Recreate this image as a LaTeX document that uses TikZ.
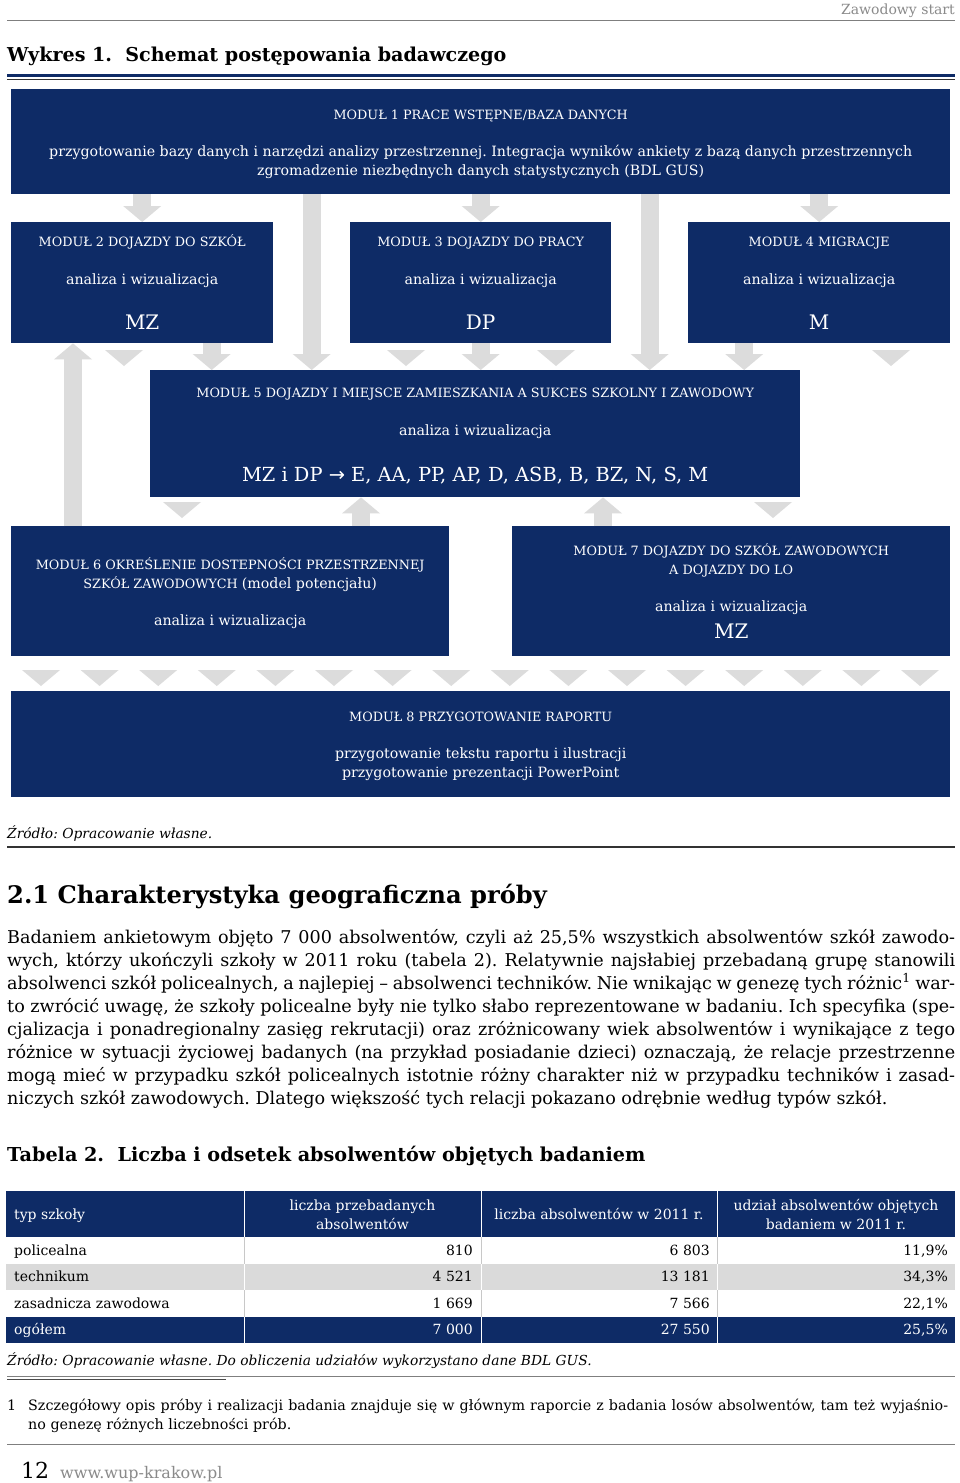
\documentclass[tikz,border=0pt]{standalone}
\usepackage{fontspec}
\setmainfont{DejaVu Serif}
\usetikzlibrary{arrows.meta,positioning,calc}
\definecolor{Navy}{HTML}{0E2B66}
\definecolor{Arrow}{HTML}{DCDCDC}
\definecolor{RowGray}{HTML}{DADADA}
\definecolor{Sep}{HTML}{C8C8C8}
\definecolor{Rule}{HTML}{7F7F7F}
\definecolor{Mute}{HTML}{8A8A8A}
\frenchspacing

\begin{document}
\begin{tikzpicture}[x=1pt,y=-1pt,
  modbox/.style={fill=Navy,anchor=north west,inner sep=0pt},
  modcap/.style={text=white,anchor=base,inner sep=0pt,font=\fontsize{12.8}{16}\selectfont},
  modtxt/.style={text=white,anchor=base,inner sep=0pt,font=\fontsize{14.2}{17}\selectfont},
  modbig/.style={text=white,anchor=base,inner sep=0pt,font=\fontsize{20}{24}\selectfont},
  garrow/.style={draw=Arrow,line width=18pt,-{Triangle[length=16pt,width=38pt,line width=0pt]}},
  bodyline/.style={anchor=base west,inner sep=0pt,font=\fontsize{17.6}{23}\selectfont},
  cell/.style={inner sep=0pt,font=\fontsize{14}{17}\selectfont},
  caption/.style={anchor=base west,inner sep=0pt,font=\fontsize{13.8}{17}\itshape}]
  \useasboundingbox (0,0) rectangle (960,1483);
  \fill[white] (0,0) rectangle (960,1483);

  % page head
  \node[anchor=base east,inner sep=0pt,text=Mute,font=\fontsize{14}{17}\selectfont] (runhead) at (955,14) {Zawodowy start};
  \draw[Rule,line width=1pt] (7,20) -- (955,20);
  \node[anchor=base west,inner sep=0pt,font=\fontsize{19.1}{23}\bfseries] (fig) at (7,61) {Wykres 1.\ \ Schemat postępowania badawczego};
  \draw[Navy,line width=3pt] (7,75.5) -- (955,75.5);
  \draw[black!80,line width=1.2pt] (7,79.5) -- (955,79.5);

  % modules
  \node[modbox,minimum width=939pt,minimum height=105pt] (m1) at (11,89) {};
  \node[modbox,minimum width=262pt,minimum height=121pt] (m2) at (11,222) {};
  \node[modbox,minimum width=261pt,minimum height=121pt] (m3) at (350,222) {};
  \node[modbox,minimum width=262pt,minimum height=121pt] (m4) at (688,222) {};
  \node[modbox,minimum width=650pt,minimum height=127pt] (m5) at (150,370) {};
  \node[modbox,minimum width=438pt,minimum height=130pt] (m6) at (11,526) {};
  \node[modbox,minimum width=438pt,minimum height=130pt] (m7) at (512,526) {};
  \node[modbox,minimum width=939pt,minimum height=106pt] (m8) at (11,691) {};

  \node[modcap] (m1a) at ($(m1.north)+(0,30)$) {MODUŁ 1 PRACE WSTĘPNE/BAZA DANYCH};
  \node[modtxt] (m1b) at ($(m1.north)+(0,67)$) {przygotowanie bazy danych i narzędzi analizy przestrzennej. Integracja wyników ankiety z bazą danych przestrzennych};
  \node[modtxt] (m1c) at ($(m1.north)+(0,86)$) {zgromadzenie niezbędnych danych statystycznych (BDL GUS)};

  \node[modcap] (m2a) at ($(m2.north)+(0,24)$) {MODUŁ 2 DOJAZDY DO SZKÓŁ};
  \node[modtxt] (m2b) at ($(m2.north)+(0,62)$) {analiza i wizualizacja};
  \node[modbig] (m2c) at ($(m2.north)+(0,107)$) {MZ};
  \node[modcap] (m3a) at ($(m3.north)+(0,24)$) {MODUŁ 3 DOJAZDY DO PRACY};
  \node[modtxt] (m3b) at ($(m3.north)+(0,62)$) {analiza i wizualizacja};
  \node[modbig] (m3c) at ($(m3.north)+(0,107)$) {DP};
  \node[modcap] (m4a) at ($(m4.north)+(0,24)$) {MODUŁ 4 MIGRACJE};
  \node[modtxt] (m4b) at ($(m4.north)+(0,62)$) {analiza i wizualizacja};
  \node[modbig] (m4c) at ($(m4.north)+(0,107)$) {M};

  \node[modcap] (m5a) at ($(m5.north)+(0,27)$) {MODUŁ 5 DOJAZDY I MIEJSCE ZAMIESZKANIA A SUKCES SZKOLNY I ZAWODOWY};
  \node[modtxt] (m5b) at ($(m5.north)+(0,65)$) {analiza i wizualizacja};
  \node[modbig,font=\fontsize{19.4}{24}\selectfont] (m5c) at ($(m5.north)+(0,111)$) {MZ i DP {\fontspec{DejaVu Sans}→} E, AA, PP, AP, D, ASB, B, BZ, N, S, M};

  \node[modcap] (m6a) at ($(m6.north)+(0,43)$) {MODUŁ 6 OKREŚLENIE DOSTEPNOŚCI PRZESTRZENNEJ};
  \node[modcap] (m6b) at ($(m6.north)+(0,62)$) {SZKÓŁ ZAWODOWYCH {\fontsize{14.2}{17}\selectfont(model potencjału)}};
  \node[modtxt] (m6c) at ($(m6.north)+(0,99)$) {analiza i wizualizacja};

  \node[modcap] (m7a) at ($(m7.north)+(0,29)$) {MODUŁ 7 DOJAZDY DO SZKÓŁ ZAWODOWYCH};
  \node[modcap] (m7b) at ($(m7.north)+(0,48)$) {A DOJAZDY DO LO};
  \node[modtxt] (m7c) at ($(m7.north)+(0,85)$) {analiza i wizualizacja};
  \node[modbig] (m7d) at ($(m7.north)+(0,112)$) {MZ};

  \node[modcap] (m8a) at ($(m8.north)+(0,30)$) {MODUŁ 8 PRZYGOTOWANIE RAPORTU};
  \node[modtxt] (m8b) at ($(m8.north)+(0,67)$) {przygotowanie tekstu raportu i ilustracji};
  \node[modtxt] (m8c) at ($(m8.north)+(0,86)$) {przygotowanie prezentacji PowerPoint};

  % grey arrows
  \coordinate (g23) at ($(m2.north east)!.5!(m3.north west)$);
  \coordinate (g34) at ($(m3.north east)!.5!(m4.north west)$);
  \coordinate (o25) at ($(m2.south east)!.5!(m5.north west)$);
  \coordinate (o45) at ($(m4.south west)!.5!(m5.north east)$);
  \coordinate (u62) at ([xshift=62]m6.north west);
  \coordinate (u65) at ([xshift=350]m6.north west);
  \coordinate (u75) at ([xshift=91]m7.north west);
  \draw[garrow] (m1.south -| m2.north) -- (m2.north);
  \draw[garrow] (m1.south -| m3.north) -- (m3.north);
  \draw[garrow] (m1.south -| m4.north) -- (m4.north);
  \draw[garrow] (m1.south -| g23) -- (m5.north -| g23);
  \draw[garrow] (m1.south -| g34) -- (m5.north -| g34);
  \draw[garrow] (m2.south -| o25) -- (m5.north -| o25);
  \draw[garrow] (m3.south) -- (m3.south |- m5.north);
  \draw[garrow] (m4.south -| o45) -- (m5.north -| o45);
  \draw[garrow] (m6.north -| u62) -- (m2.south -| u62);
  \draw[garrow] (m6.north -| u65) -- (m5.south -| u65);
  \draw[garrow] (m7.north -| u75) -- (m5.south -| u75);

  % loose triangles
  \foreach \tx in {124,406,556,891}
    \fill[Arrow] (\tx-19,350) -- (\tx+19,350) -- (\tx,366) -- cycle;
  \foreach \tx in {182,773}
    \fill[Arrow] (\tx-19,502) -- (\tx+19,502) -- (\tx,518) -- cycle;
  \foreach \i in {0,...,15}
    \fill[Arrow] ({41+58.6*\i-19},670) -- ({41+58.6*\i+19},670) -- ({41+58.6*\i},686) -- cycle;

  \node[caption] (src1) at (7,838) {Źródło: Opracowanie własne.};
  \draw[black!80,line width=1.2pt] (7,847) -- (955,847);

  % section text
  \node[anchor=base west,inner sep=0pt,font=\fontsize{24.2}{28}\bfseries] (sec) at (7,903) {2.1 Charakterystyka geograficzna próby};
  \node[bodyline] (p1) at (7,943) {\makebox[948pt][s]{Badaniem ankietowym objęto 7~000 absolwentów, czyli aż 25,5\% wszystkich absolwentów szkół zawodo-}};
  \node[bodyline] (p2) at (7,966) {\makebox[948pt][s]{wych, którzy ukończyli szkoły w 2011 roku (tabela 2). Relatywnie najsłabiej przebadaną grupę stanowili}};
  \node[bodyline] (p3) at (7,989) {\makebox[948pt][s]{absolwenci szkół policealnych, a najlepiej -- absolwenci techników. Nie wnikając w genezę tych różnic\textsuperscript{1} war-}};
  \node[bodyline] (p4) at (7,1012) {\makebox[948pt][s]{to zwrócić uwagę, że szkoły policealne były nie tylko słabo reprezentowane w badaniu. Ich specyfika (spe-}};
  \node[bodyline] (p5) at (7,1035) {\makebox[948pt][s]{cjalizacja i ponadregionalny zasięg rekrutacji) oraz zróżnicowany wiek absolwentów i wynikające z tego}};
  \node[bodyline] (p6) at (7,1058) {\makebox[948pt][s]{różnice w sytuacji życiowej badanych (na przykład posiadanie dzieci) oznaczają, że relacje przestrzenne}};
  \node[bodyline] (p7) at (7,1081) {\makebox[948pt][s]{mogą mieć w przypadku szkół policealnych istotnie różny charakter niż w przypadku techników i zasad-}};
  \node[bodyline] (p8) at (7,1104) {niczych szkół zawodowych. Dlatego większość tych relacji pokazano odrębnie według typów szkół.};

  % table
  \node[anchor=base west,inner sep=0pt,font=\fontsize{19.2}{23}\bfseries] (tab) at (7,1161) {Tabela 2.\ \ Liczba i odsetek absolwentów objętych badaniem};
  \fill[Navy] (6,1191) rectangle (955,1237);
  \foreach \sx in {244,481,717}
    \draw[white,line width=0.8pt] (\sx,1191) -- (\sx,1237);
  \node[cell,text=white,anchor=base west] (h1) at (14,1219) {typ szkoły};
  \node[cell,text=white,anchor=base] (h2a) at (362.5,1210) {liczba przebadanych};
  \node[cell,text=white,anchor=base] (h2b) at (362.5,1229) {absolwentów};
  \node[cell,text=white,anchor=base] (h3) at (599,1219) {liczba absolwentów w 2011 r.};
  \node[cell,text=white,anchor=base] (h4a) at (836,1210) {udział absolwentów objętych};
  \node[cell,text=white,anchor=base] (h4b) at (836,1229) {badaniem w 2011 r.};
  \foreach \ry/\rf/\rt/\rs/\rname/\ra/\rb/\rc [count=\k] in {
      1237/white/black/Sep/policealna/810/6 803/{11,9\%},
      1263.5/RowGray/black/white/technikum/4 521/13 181/{34,3\%},
      1290/white/black/Sep/zasadnicza zawodowa/1 669/7 566/{22,1\%},
      1316.5/Navy/white/white/ogółem/7 000/27 550/{25,5\%}} {
    \fill[\rf] (6,\ry) rectangle (955,\ry+26.5);
    \foreach \sx in {244,481,717}
      \draw[\rs,line width=0.8pt] (\sx,\ry) -- (\sx,\ry+26.5);
    \node[cell,text=\rt,anchor=base west] (r\k n) at (14,\ry+18) {\rname};
    \node[cell,text=\rt,anchor=base east] (r\k a) at (473,\ry+18) {\ra};
    \node[cell,text=\rt,anchor=base east] (r\k b) at (710,\ry+18) {\rb};
    \node[cell,text=\rt,anchor=base east] (r\k c) at (948,\ry+18) {\rc};
  }
  \node[caption] (src2) at (7,1365) {Źródło: Opracowanie własne. Do obliczenia udziałów wykorzystano dane BDL GUS.};
  \draw[Rule,line width=0.8pt] (7,1376) -- (955,1376);
  \draw[black!70,line width=0.8pt] (7,1379) -- (226,1379);

  % footnote and foot
  \node[anchor=base west,inner sep=0pt,font=\fontsize{14.3}{17}\selectfont] (fn) at (7,1410) {1};
  \node[anchor=base west,inner sep=0pt,font=\fontsize{14.3}{17}\selectfont] (fn1) at (28,1410) {\makebox[920pt][s]{Szczegółowy opis próby i realizacji badania znajduje się w głównym raporcie z badania losów absolwentów, tam też wyjaśnio-}};
  \node[anchor=base west,inner sep=0pt,font=\fontsize{14.3}{17}\selectfont] (fn2) at (28,1429) {no genezę różnych liczebności prób.};
  \draw[Rule,line width=1pt] (7,1444) -- (955,1444);
  \node[anchor=base west,inner sep=0pt,font=\fontsize{22}{26}\selectfont] (pg) at (21,1478) {12};
  \node[anchor=base west,inner sep=0pt,text=Mute,font=\fontsize{16}{19}\selectfont] (url) at (60,1478) {www.wup-krakow.pl};
\end{tikzpicture}
\end{document}
